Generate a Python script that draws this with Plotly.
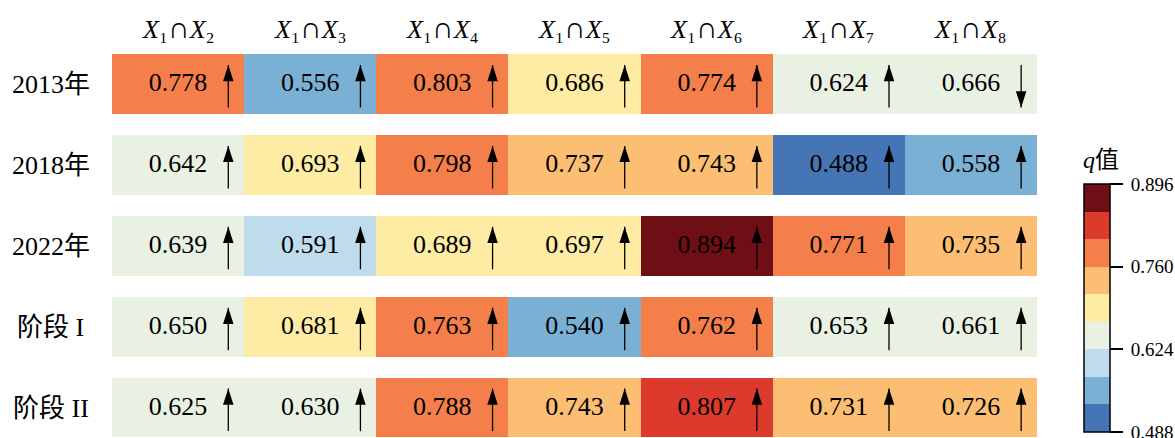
import plotly.graph_objects as go

# ---------------- data ----------------
row_labels = ["2013年", "2018年", "2022年", "阶段 I", "阶段 II"]
col_subscripts = ["₂", "₃", "₄", "₅", "₆", "₇", "₈"]
q_2013 = [0.778, 0.556, 0.803, 0.686, 0.774, 0.624, 0.666]
q_2018 = [0.642, 0.693, 0.798, 0.737, 0.743, 0.488, 0.558]
q_2022 = [0.639, 0.591, 0.689, 0.697, 0.894, 0.771, 0.735]
q_stage1 = [0.650, 0.681, 0.763, 0.540, 0.762, 0.653, 0.661]
q_stage2 = [0.625, 0.630, 0.788, 0.743, 0.807, 0.731, 0.726]

trend_2013 = ["up", "up", "up", "up", "up", "up", "down"]
trend_2018 = ["up", "up", "up", "up", "up", "up", "up"]
trend_2022 = ["up", "up", "up", "up", "up", "up", "up"]
trend_stage1 = ["up", "up", "up", "up", "up", "up", "up"]
trend_stage2 = ["up", "up", "up", "up", "up", "up", "up"]

cbar_ticks = [0.488, 0.624, 0.760, 0.896]
z_min, z_max = 0.488, 0.896
bin_colors = ["#4575b4", "#7bb0d5", "#bfdcec", "#e9f2e2", "#feeca4",
              "#fbbe73", "#f47f4b", "#dc3a2d", "#6e0e15"]

# ---------------- layout geometry ----------------
FONT = "Liberation Serif, Noto Sans CJK SC, serif"
W, H = 1175, 438
m_l = 111.5
m_r = W - 1036.7
m_t = 43.5
m_b = 0
plot_w = W - m_l - m_r
plot_h = H - m_t - m_b
row_px = 81.0
y_bottom = -0.5 + plot_h / row_px


def px_x(sx):  # screen x -> paper x
    return (sx - m_l) / plot_w


def px_y(sy):  # screen y -> paper y
    return (H - sy) / plot_h


def header(sub):
    return ("<span style='font-style:italic;font-size:26px'>X</span>"
            "<span style='font-size:26px'>₁</span>"
            "<span style='font-size:30px'>∩</span>"
            "<span style='font-style:italic;font-size:26px'>X</span>"
            f"<span style='font-size:26px'>{sub}</span>")


col_labels = [header(s) for s in col_subscripts]

z = [q_2013, q_2018, q_2022, q_stage1, q_stage2]
trends = [trend_2013, trend_2018, trend_2022, trend_stage1, trend_stage2]
n_rows, n_cols = len(z), len(z[0])

nb = len(bin_colors)
colorscale = []
for i, c in enumerate(bin_colors):
    colorscale.append([i / nb, c])
    colorscale.append([(i + 1) / nb, c])

fig = go.Figure()
fig.add_trace(go.Heatmap(
    z=z, x=list(range(n_cols)), y=list(range(n_rows)),
    zmin=z_min, zmax=z_max, colorscale=colorscale,
    xgap=0, ygap=21,
    hoverinfo="skip",
    colorbar=dict(
        x=px_x(1083.3), xanchor="left", xpad=0,
        y=px_y(308), yanchor="middle", ypad=0,
        lenmode="pixels", len=248, thickness=26,
        outlinecolor="black", outlinewidth=1.5,
        tickvals=cbar_ticks, ticktext=["\u2009" + f"{v:.3f}" for v in cbar_ticks],
        ticks="outside", ticklen=13, tickwidth=2, tickcolor="black",
        ticklabeloverflow="allow",
        tickfont=dict(family=FONT, size=19, color="black"),
    ),
))

# value labels
tx, ty, tt = [], [], []
for r in range(n_rows):
    for c in range(n_cols):
        tx.append(c); ty.append(r); tt.append(f"{z[r][c]:.3f}")
fig.add_trace(go.Scatter(x=tx, y=ty, text=tt, mode="text",
                         textposition="middle center",
                         textfont=dict(family=FONT, size=26, color="black"),
                         hoverinfo="skip", showlegend=False))

# arrows: shafts + heads
dx = 0.38
top_end, bot_end = -0.24, 0.285
sx, sy, hx, hy, ha = [], [], [], [], []
for r in range(n_rows):
    for c in range(n_cols):
        x = c + dx
        sx += [x, x, None]
        sy += [r + top_end, r + bot_end, None]
        if trends[r][c] == "up":
            hx.append(x); hy.append(r + top_end); ha.append(0)
        else:
            hx.append(x); hy.append(r + bot_end); ha.append(180)

fig.add_trace(go.Scatter(x=sx, y=sy, mode="lines",
                         line=dict(color="black", width=1.3),
                         hoverinfo="skip", showlegend=False))
fig.add_trace(go.Scatter(x=hx, y=hy, mode="markers",
                         marker=dict(symbol="arrow", size=17, angle=ha,
                                     color="black", line=dict(width=0)),
                         hoverinfo="skip", showlegend=False))

annotations = []
for c, lab in enumerate(col_labels):
    annotations.append(dict(x=c, y=px_y(27), xref="x", yref="paper",
                            text=lab, showarrow=False, xanchor="center", yanchor="middle",
                            font=dict(family=FONT, size=26, color="black")))
for r, lab in enumerate(row_labels):
    annotations.append(dict(x=px_x(50), y=r, xref="paper", yref="y",
                            text=lab, showarrow=False, xanchor="center", yanchor="middle",
                            font=dict(family=FONT, size=26, color="black")))
annotations.append(dict(x=px_x(1081), y=px_y(160),
                        xref="paper", yref="paper", text="<i>q</i>值", showarrow=False,
                        xanchor="left", yanchor="middle",
                        font=dict(family=FONT, size=24, color="black")))

fig.update_layout(
    width=W, height=H,
    margin=dict(l=m_l, r=m_r, t=m_t, b=m_b, pad=0, autoexpand=False),
    paper_bgcolor="white", plot_bgcolor="white",
    xaxis=dict(range=[-0.5, n_cols - 0.5], visible=False, fixedrange=True),
    yaxis=dict(range=[y_bottom, -0.5], visible=False, fixedrange=True),
    annotations=annotations,
    showlegend=False,
)

fig.write_html(
    "out.html",
    config={"displayModeBar": False, "staticPlot": True},
    post_script="document.body.style.margin='0';document.body.style.overflow='hidden';",
)
